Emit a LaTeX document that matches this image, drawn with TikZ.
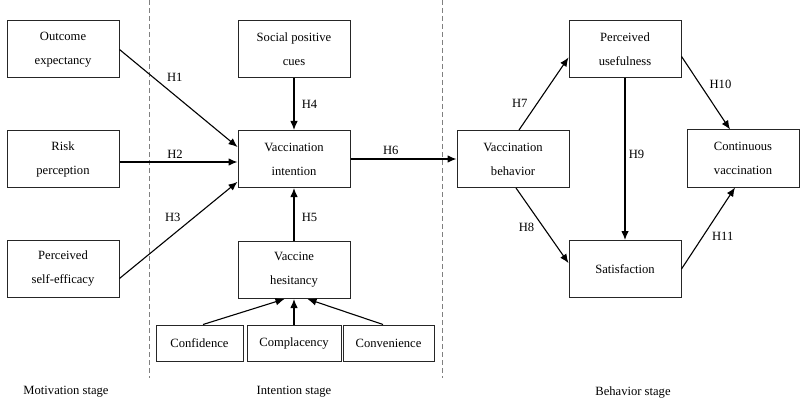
\documentclass[tikz,border=0pt]{standalone}
\usepackage{fontspec}
\setmainfont{Liberation Serif}
\usetikzlibrary{arrows.meta,positioning}

\begin{document}
\begin{tikzpicture}[x=1pt,y=-1pt,node distance=109.5pt,on grid,
   >={Latex[length=9pt,width=7.5pt]},
   font=\fontsize{12.6}{24}\selectfont,
   box/.style={draw=black!85,line width=1pt,minimum width=112pt,minimum height=57pt,align=center,inner sep=2pt},
   factor/.style={draw=black!85,line width=1pt,minimum height=36pt,inner sep=2pt},
   link/.style={->,line width=1.1pt},
   divider/.style={gray,line width=1pt,dash pattern=on 5pt off 3pt}]
   \useasboundingbox (0,0) rectangle (800,409);
   % motivation stage
   \node[box] (oe) at (63,49.5) {Outcome\\expectancy};
   \node[box] (rp) [below=of oe] {Risk\\perception};
   \node[box] (pse) [below=of rp] {Perceived\\self-efficacy};
   % intention stage
   \node[box] (spc) at (294,49.5) {Social positive\\cues};
   \node[box] (vi) [below=of spc] {Vaccination\\intention};
   \node[box] (vh) [below=111pt of vi] {Vaccine\\hesitancy};
   \node[factor,minimum width=87pt] (conf) at (199.5,343) {Confidence};
   \node[factor,minimum width=94pt] (compl) at (294,343) {Complacency};
   \node[factor,minimum width=91pt] (conv) at (388.5,343) {Convenience};
   % behavior stage
   \node[box] (vb) at (513,159) {Vaccination\\behavior};
   \node[box] (pu) at (625,49.5) {Perceived\\usefulness};
   \node[box] (sat) [below=219.5pt of pu] {Satisfaction};
   \node[box] (cv) at (743,158.5) {Continuous\\vaccination};
   % stages
   \draw[divider] (149,0) -- (149,378);
   \draw[divider] (442,0) -- (442,378);
   \node (mot) at (66,392) {Motivation stage};
   \node (int) at (294,392) {Intention stage};
   \node (beh) at (633,392) {Behavior stage};
   \path[link]
   (oe.east) edge node[pos=.37,above right] {H1} (vi.168)
   ([yshift=-3pt]rp.east) edge node[pos=.47,above] {H2} ([yshift=-3pt]vi.west)
   (pse.350) edge node[pos=.55,above left] {H3} (vi.202)
   (spc) edge node[right=4pt] {H4} (vi)
   (vh) edge node[pos=.44,right=4pt] {H5} (vi)
   (vi) edge node[pos=.38,above] {H6} (vb)
   ([xshift=3.5pt]conf.north) edge ([xshift=-9.5pt]vh.south)
   (compl) edge (vh)
   ([xshift=-5.5pt]conv.north) edge ([xshift=13.5pt]vh.south)
   ([xshift=6pt]vb.north) edge node[pos=.25,above left] {H7} (pu.188)
   ([xshift=3pt]vb.south) edge node[pos=.42,below left] {H8} (sat.174)
   (pu) edge node[pos=.47,right] {H9} (sat)
   (pu.353) edge node[pos=.5,above right] {H10} ([xshift=-13pt]cv.north)
   (sat.east) edge node[pos=.5,below right] {H11} ([xshift=-8pt]cv.south);
\end{tikzpicture}
\end{document}
